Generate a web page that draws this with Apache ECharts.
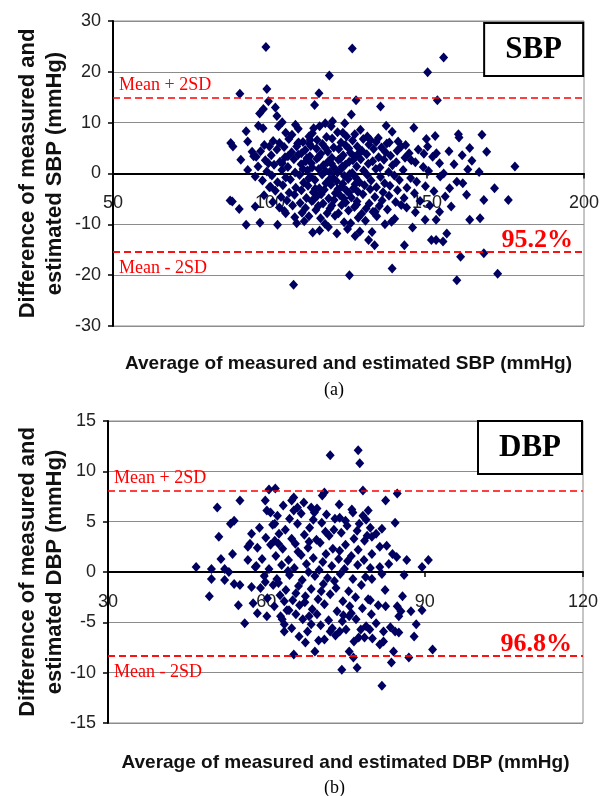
<!DOCTYPE html>
<html>
<head>
<meta charset="utf-8">
<script src="https://cdn.jsdelivr.net/npm/echarts@6/dist/echarts.min.js"></script>
<style>
html, body { margin: 0; padding: 0; background: #fff; }
#main { width: 605px; height: 796px; }
</style>
</head>
<body>
<div id="main"></div>
<script>
// axis ticks
var sbpXTicks = [50, 100, 150, 200];
var sbpYTicks = [-30, -20, -10, 0, 10, 20, 30];
var dbpXTicks = [30, 60, 90, 120];
var dbpYTicks = [-15, -10, -5, 0, 5, 10, 15];

// mean +/- 2SD and % of points inside them
var sbpLimits = [14.9, -15.3];
var dbpLimits = [8.1, -8.3];
var sbpInside = '95.2%';
var dbpInside = '96.8%';

// [average, difference]
var sbpPoints = [
  [98.7,24.9],[126.2,24.6],[155.3,22.8],[150.2,19.9],[118.9,19.3],[90.4,15.7],[99,16.6],[115.6,15.8],
  [99.5,14.2],[127.4,14.4],[153.3,14.4],[114.2,13.5],[135.2,13.2],[101.7,13],[102.2,11.3],[125.9,11.6],
  [137,9.4],[145.8,9],[160,7.7],[160.2,7.1],[167.5,7.6],[178,1.4],[163.6,5],[169,4.3],[166.6,0.3],
  [155.3,0],[153,4],[154,2],[150.2,5.3],[149,3.9],[146.3,2.2],[144.3,4],[141.8,5.3],[140.8,6.3],
  [138,6.1],[134.5,7],[87.5,6],[88.2,5.3],[92.4,8.3],[92.9,6.3],[94.3,4.3],[94.8,3.4],[90.7,2.7],
  [92.9,0.7],[96.3,9.4],[97.8,8.9],[99.8,5.3],[99.5,2],[102.7,9.3],[105,8],[103,6],[109,8.8],
  [112.4,7.3],[103.9,2],[105.7,3.4],[108.5,5.3],[110,4],[112.8,6.6],[115.8,9.3],[117.6,9.9],
  [119.5,9.3],[123.2,8],[124.4,7.3],[128.8,8.6],[132,6.6],
  [87.3,-5.3],[88,-5.5],[90.2,-7],[92.4,-10.1],[95.3,-6.5],[96.8,-9.7],[102.4,-10.1],[100.2,-2.6],
  [105,-7.8],[107.5,-21.9],[108.5,-9.8],[112.4,-8.4],[113.6,-11.6],[118.6,-10.5],[121.3,-11.8],
  [121.8,-7.8],[125.3,-20],[125.7,-9.8],[128.6,-11.4],[131.4,-13.1],[133.3,-14.1],[133.5,-7.5],
  [138.9,-18.7],[138.7,-9.5],[142.8,-14.1],[141.8,-6.2],[149.4,-9.1],[151.4,-13.1],[152.9,-13.1],
  [155.1,-13.4],[156.3,-11.8],[152.9,-9.1],[154,-7.5],[157.7,-6.5],[159.5,-21],[160.7,-16.4],
  [162.6,-4.2],[163.6,-9.1],[166.9,-8.8],[168.1,-5.2],[168.1,-15.7],[171.5,-2.9],[172.5,-19.7],
  [175.9,-5.2],[159.5,-1.6],[161.4,-1.9],
  [107,7.6],[113.5,7.9],[118,7.2],[121.5,8.1],[127,7.7],[131,7.3],
  [101,6.4],[106,6.8],[110.5,6.2],[115,6.6],[119.8,6.9],[122.6,6.1],[126.3,6.5],[129.7,6.8],[133.8,6.2],[137.2,5.9],
  [98.2,5.6],[104.5,5.2],[108.8,5.9],[113,5.4],[116.7,5.8],[120.3,5.1],[124,5.6],[127.8,5.3],[131.5,5.7],[135.5,5.1],[143.2,5.6],
  [97,4.4],[102.2,4.7],[106.9,4.2],[111.2,4.6],[114.8,4.9],[118.4,4.3],[121.9,4.8],[125.6,4.1],[129.3,4.5],[133,4.8],[136.8,4.2],[140.5,4.5],[147.2,4.7],[157,4.4],
  [95.6,3.3],[100.4,3.6],[104.8,3.2],[109,3.7],[112.7,3.4],[116.2,3.9],[119.7,3.1],[123.3,3.6],[127,3.3],[130.8,3.8],[134.6,3.2],[138.4,3.5],[143,3.1],[151.8,3.3],[161.2,3.6],
  [98.5,2.6],[103.2,2.3],[107.6,2.8],[111.4,2.4],[114.9,2.9],[118.3,2.2],[121.8,2.7],[125.2,2.3],[128.9,2.8],[132.7,2.4],[136.3,2.7],[140.2,2.2],[145,2.6],[164.3,2.5],
  [96.2,1.4],[101.3,1.7],[105.7,1.3],[109.9,1.8],[113.4,1.2],[117,1.6],[120.5,1.1],[124,1.7],[127.6,1.4],[131.3,1.9],[135,1.2],[139,1.6],[148.8,1.3],[158.6,1.8],
  [99,0.4],[103.8,0.7],[108,0.2],[111.9,0.6],[115.5,0.9],[119,0.3],[122.6,0.8],[126.2,0.1],[129.8,0.6],[133.7,0.9],[137.8,0.3],[142.4,0.7],[150.5,0.5],[163,0.8],
  [95.3,-0.6],[100.6,-0.4],[105,-0.8],[109.4,-0.3],[113,-0.7],[116.6,-0.2],[120.1,-0.9],[123.7,-0.5],[127.3,-0.8],[131,-0.3],[135.2,-0.7],[139.6,-0.4],[144.8,-0.9],[154.2,-0.6],
  [97.6,-1.4],[102.4,-1.7],[106.5,-1.2],[110.7,-1.8],[114.3,-1.3],[117.8,-1.9],[121.2,-1.5],[124.9,-1.1],[128.5,-1.7],[132.2,-1.4],[136.5,-1.9],[141.2,-1.3],[146.7,-1.6],
  [99.8,-2.7],[104.1,-2.3],[108.2,-2.8],[112.1,-2.4],[115.7,-2.9],[119.4,-2.2],[122.9,-2.6],[126.6,-2.9],[130.1,-2.3],[133.9,-2.7],[138.2,-2.4],[143.6,-2.8],[149.5,-2.5],[157.2,-2.9],
  [101.7,-3.4],[106.1,-3.8],[110,-3.3],[113.8,-3.7],[117.3,-3.2],[120.8,-3.9],[124.4,-3.4],[128,-3.6],[131.9,-3.1],[136,-3.7],[140.6,-3.3],[146,-3.9],[152.2,-3.5],
  [98.1,-4.3],[103.5,-4.6],[107.8,-4.2],[111.6,-4.8],[115.1,-4.4],[118.7,-4.9],[122.3,-4.3],[125.9,-4.7],[129.6,-4.1],[133.4,-4.6],[137.9,-4.4],[142.7,-4.8],[155.8,-4.5],
  [100.9,-5.6],[105.4,-5.3],[109.6,-5.8],[113.3,-5.4],[116.9,-5.9],[120.4,-5.2],[124.1,-5.7],[127.7,-5.5],[131.6,-5.9],[135.7,-5.3],[140,-5.6],[147.8,-5.4],
  [103,-6.7],[107.2,-6.3],[111.3,-6.8],[115.4,-6.4],[119.1,-6.9],[122.8,-6.2],[126.9,-6.6],[130.6,-6.9],[134.8,-6.4],[143.5,-6.7],[150.9,-6.3],
  [104.6,-7.4],[110.2,-7.7],[114.6,-7.2],[118.2,-7.8],[125,-7.3],[129.2,-7.9],[132.8,-7.5],[137.4,-7.1],[146.3,-7.6],
  [107.9,-8.6],[116.1,-8.8],[120.7,-8.3],[128.1,-8.7],[134,-8.4],[139.7,-8.9],
  [110.9,-9.4],[117.5,-9.9],[123.6,-9.6],[130.4,-9.3],[136.6,-10],
  [115.8,-11.2],[124.7,-10.9],[132.5,-11.5],[127.1,-12.3],[145.4,-10.6],
  [113.9,8.9],[119.9,10.3],[103.9,10.1],[108.1,9.6],[123.8,9.9],[138.9,8.2],[149.8,6.8],[152.6,7.4],
  [96.7,11.8],[97.9,12.7],
  [109.1,6.1],[112.6,5.8],[117.7,5],[125.1,4.9],[128.4,4.1],[111.8,3],[115.6,3.3],[122.5,3],[126.4,2.6],
  [113.2,2],[119.6,1.9],[123,1.4],[110.5,0.9],[117.7,0.5],[121.5,0.2],[125.4,-0.1],[112.3,-1],[118.9,-1.2],
  [123.2,-2],[127.1,-2.1],[114.4,-3],[121.6,-3.1],[125.1,-3.8],[116.3,-4.1],[123.5,-4.9],[119.7,-6.3],
  [113.8,-5.2],[127.6,-6.1]
];

var dbpPoints = [
  [46.7,0.5],[49.6,0.3],[49.6,-0.7],[50.7,6.4],[51,3.5],[51.4,1.3],[53.2,4.8],[53.9,5.1],[53.6,1.8],
  [52.1,0.3],[52.9,0],[52.1,-0.8],[55,7.1],[53.9,-1.2],[55,-1.3],[56.5,1.2],[57.2,3.8],[56.9,2.8],
  [56.5,2.5],[57.9,0.5],[57.2,-1.5],[59.8,7.1],[60.1,6.1],[60.8,5.9],[60.5,8.2],[61.7,8.3],[61.6,4.8],
  [59.8,-1],[61.6,3.1],[62.3,2.8],[64.8,7.1],[65.2,7.4],[65.2,6.1],[65.9,6.4],[68.5,6.4],[70.6,7.6],
  [71,7.9],[72.1,11.6],[73,5.3],[75,5.1],[77.4,12.1],[77.7,10.8],[78.3,8.1],[77.2,4.1],[78.3,5.6],
  [79.3,6.1],[79.7,4.4],[80,3.5],[80.8,3.8],[78.6,3.1],[81.5,2.5],[80,1.8],[82.6,7.1],[84.8,7.8],
  [84.4,4.9],[83.9,1.8],[86.6,1.2],[89.5,0.5],[90.7,1.2],[81.5,0.5],[81.9,-0.2],[80,-0.7],
  [49.2,-2.4],[54.7,-3.3],[55.9,-5.1],[58.3,-4.1],[63,-4.7],[63.4,-5.2],[63.4,-5.9],[65.2,-8.2],
  [64.3,-3.8],[65.6,-4.2],[67.4,-7],[68.1,-4.4],[68.5,-5.2],[69.2,-7.9],[71,-6.7],[72.1,-5.9],
  [72.5,-5.6],[73.9,-5.9],[74.3,-9.7],[75.7,-7.9],[76.1,-4.1],[75.7,-4.4],[76.5,-8.5],[77.2,-9.5],
  [77.5,-6.5],[78.6,-6.5],[77.9,-5.7],[79.6,-5.7],[79.7,-2.8],[80.8,-5.1],[81.9,-11.3],[81.5,-7.2],
  [82.2,-6.9],[82.2,-5.9],[82.6,-3.4],[83.7,-9],[84.1,-7.9],[84.4,-5.9],[85.1,-6],[84.8,-3.4],
  [85.5,-3.9],[85.1,-4.4],[87,-8.5],[87.4,-3.9],[88,-6.4],[88.4,-5.2],[89.5,-3.8],[91.5,-7.7],
  [63.2,6.6],[67.1,6.9],[69.6,6.3],[73.8,6.7],[76.2,6.2],
  [62.1,5.6],[64.4,5.3],[66.6,5.8],[68.9,5.2],[71.4,5.7],[73.9,5.4],[76.4,5.9],[78.9,5.2],
  [58.7,4.4],[61.2,4.7],[63.6,4.2],[65.9,4.8],[68.2,4.4],[70.5,4.9],[72.8,4.2],[75.3,4.6],[77.6,4.8],[81.9,4.3],
  [59.9,3.4],[62.4,3.8],[64.8,3.3],[67.2,3.7],[69.5,3.2],[71.9,3.6],[74.2,3.9],[76.6,3.3],[79.1,3.6],
  [58.3,2.4],[60.8,2.7],[63.1,2.3],[65.5,2.8],[67.9,2.4],[70.2,2.9],[72.6,2.3],[75,2.7],[77.4,2.2],[82.8,2.6],
  [59.2,1.3],[61.8,1.6],[64.2,1.2],[66.6,1.7],[68.9,1.4],[71.3,1.8],[73.7,1.3],[76.1,1.6],[78.5,1.2],[84.7,1.5],
  [58.1,0.6],[60.5,0.3],[62.9,0.7],[65.3,0.4],[67.6,0.8],[70,0.2],[72.4,0.6],[74.8,0.3],[77.3,0.7],[79.7,0.4],[83.2,0.8],
  [59.6,-0.4],[62,-0.7],[64.4,-0.3],[66.8,-0.8],[69.2,-0.4],[71.6,-0.6],[74,-0.2],[76.4,-0.7],[78.8,-0.5],[86.1,-0.3],
  [58.9,-1.6],[61.3,-1.3],[63.7,-1.8],[66.1,-1.4],[68.5,-1.7],[70.8,-1.2],[73.2,-1.6],[75.6,-1.9],[78,-1.3],[82.5,-1.8],
  [60.2,-2.6],[62.6,-2.3],[65,-2.8],[67.4,-2.4],[69.8,-2.7],[72.1,-2.2],[74.5,-2.9],[76.9,-2.5],[79.3,-2.7],[85.8,-2.4],
  [61.5,-3.4],[63.9,-3.8],[66.3,-3.3],[68.7,-3.7],[71,-3.2],[73.4,-3.9],[75.8,-3.4],[78.2,-3.6],[81.2,-3.3],
  [62.7,-4.4],[66.9,-4.7],[69.6,-4.2],[71.8,-4.8],[74.6,-4.3],[77,-4.7],[79.9,-4.2],
  [64.8,-5.6],[67.8,-5.9],[70.3,-5.3],[75.1,-5.7],[78.9,-5.4],[83.5,-5.5],
  [66.2,-6.4],[69.9,-6.8],[73.1,-6.3],[76.6,-6.9],[80.1,-6.6],
  [64.1,0.1],[66,2],[68.1,3],[70.7,1],[72.9,-0.9],[65.6,-2.1],[70.4,-1.9],[73.9,2.1],[67.3,-3],
  [71.2,4],[69.1,5.9],[74.4,-4.9],[62.3,-1.1],[68,0],[75.4,1.1],[63.4,-2.9],[60.1,-4.4],[57.5,-3.1]
];

var chart = echarts.init(document.getElementById('main'));

var sansFont = "'Liberation Sans', Arial, sans-serif";
var narrowFont = "'Liberation Sans Narrow', 'Arial Narrow', 'Liberation Sans', sans-serif";
var serifFont = "'Liberation Serif', 'Times New Roman', serif";
var navy = '#000060';
var red = '#ff0000';

var grids = [
  { left: 113, right: 21, top: 21, height: 305 },
  { left: 108, right: 22, top: 421, height: 302 }
];

// x axis sits on the y = 0 line: shift it up from the grid bottom by the scale
function xAxisFor(ticks, yTicks, idx, title) {
  var yMin = yTicks[0], yMax = yTicks[yTicks.length - 1];
  var lift = grids[idx].height * (0 - yMin) / (yMax - yMin);
  return {
    type: 'value', gridIndex: idx,
    min: ticks[0], max: ticks[ticks.length - 1], interval: ticks[1] - ticks[0],
    offset: -lift,
    name: title, nameLocation: 'middle', nameGap: 181, nameMoveOverlap: false,
    nameTextStyle: { fontFamily: sansFont, fontWeight: 'bold', fontSize: 19, color: '#111' },
    axisLine: { onZero: false, lineStyle: { color: '#000', width: 2 } },
    axisTick: { length: 5, lineStyle: { color: '#000', width: 1.5 } },
    axisLabel: { margin: 21, fontFamily: sansFont, fontSize: 18, color: '#222' },
    splitLine: { show: false }
  };
}

function yAxisFor(ticks, idx, title, gap) {
  return {
    type: 'value', gridIndex: idx,
    min: ticks[0], max: ticks[ticks.length - 1], interval: ticks[1] - ticks[0],
    name: title, nameLocation: 'middle', nameRotate: 90, nameGap: gap, nameMoveOverlap: false,
    nameTextStyle: { fontFamily: sansFont, fontWeight: 'bold', fontSize: 22, lineHeight: 27, color: '#111' },
    axisLine: { show: true, onZero: false, lineStyle: { color: '#000', width: 2 } },
    axisTick: { show: true, length: 5, lineStyle: { color: '#000', width: 1.5 } },
    axisLabel: { margin: 12, fontFamily: narrowFont, fontSize: 18, color: '#222' },
    splitLine: { show: true, lineStyle: { color: '#8c8c8c', width: 1 } }
  };
}

function limitLines(limits, inside) {
  var base = { color: red, fontFamily: serifFont, fontSize: 18 };
  return {
    symbol: 'none', silent: true,
    lineStyle: { color: red, type: [7, 4], width: 1.5 },
    data: [
      { yAxis: limits[0], label: Object.assign({ formatter: 'Mean + 2SD', position: 'insideStartTop', distance: [6, 3] }, base) },
      { yAxis: limits[1], label: Object.assign({ formatter: 'Mean - 2SD', position: 'insideStartBottom', distance: [6, 8] }, base) },
      { yAxis: limits[1], label: { formatter: inside, position: 'insideEndTop', distance: [11, -2],
          color: red, fontFamily: serifFont, fontWeight: 'bold', fontSize: 26 } }
    ]
  };
}

function boxTitle(text, right, top) {
  return {
    text: text, right: right, top: top,
    backgroundColor: '#fff', borderColor: '#000', borderWidth: 2,
    padding: [11, 21],
    textStyle: { fontFamily: serifFont, fontWeight: 'bold', fontSize: 31, color: '#000', lineHeight: 31 }
  };
}

var option = {
  backgroundColor: '#fff',
  animation: false,
  title: [boxTitle('SBP', 22, 23), boxTitle('DBP', 23, 421)],
  grid: grids.map(function (g) {
    return Object.assign({ show: true, borderColor: '#8c8c8c', borderWidth: 1, outerBoundsMode: 'none' }, g);
  }),
  xAxis: [
    xAxisFor(sbpXTicks, sbpYTicks, 0, 'Average of measured and estimated SBP (mmHg)'),
    xAxisFor(dbpXTicks, dbpYTicks, 1, 'Average of measured and estimated DBP (mmHg)')
  ],
  yAxis: [
    yAxisFor(sbpYTicks, 0, 'Difference of measured and\nestimated SBP (mmHg)', 45),
    yAxisFor(dbpYTicks, 1, 'Difference of measured and\nestimated DBP (mmHg)', 40)
  ],
  graphic: [
    { type: 'text', left: 324, top: 381, style: { text: '(a)', fontFamily: serifFont, fontSize: 18, fill: '#000' } },
    { type: 'text', left: 324, top: 779, style: { text: '(b)', fontFamily: serifFont, fontSize: 18, fill: '#000' } }
  ],
  series: [
    {
      type: 'scatter', xAxisIndex: 0, yAxisIndex: 0,
      symbol: 'diamond', symbolSize: [9, 10],
      itemStyle: { color: navy, opacity: 1 },
      data: sbpPoints,
      markLine: limitLines(sbpLimits, sbpInside)
    },
    {
      type: 'scatter', xAxisIndex: 1, yAxisIndex: 1,
      symbol: 'diamond', symbolSize: [9, 10],
      itemStyle: { color: navy, opacity: 1 },
      data: dbpPoints,
      markLine: limitLines(dbpLimits, dbpInside)
    }
  ]
};

chart.setOption(option);
</script>
</body>
</html>
